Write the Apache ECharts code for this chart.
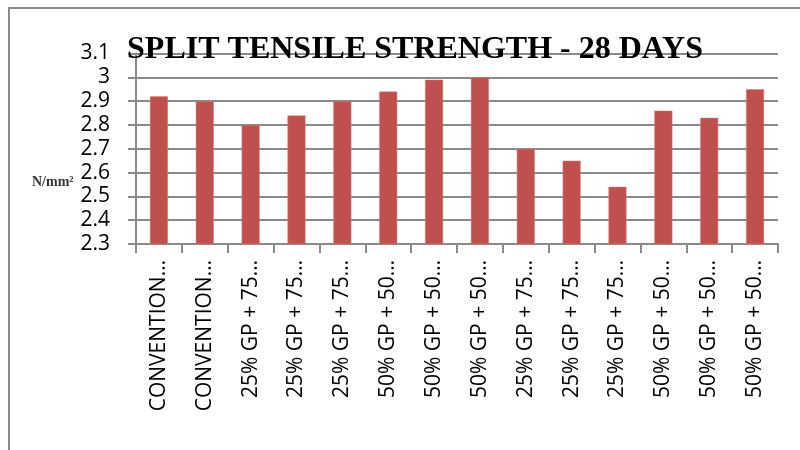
<!DOCTYPE html>
<html>
<head>
<meta charset="utf-8">
<script src="https://cdn.jsdelivr.net/npm/echarts@6/dist/echarts.min.js"></script>
<style>
  body { margin: 0; background: #fff; }
  .echarts_box { position: relative; width: 800px; height: 450px; overflow: hidden; }
  .frame {
    position: absolute; left: 8px; top: 7px; width: 900px; height: 500px;
    border-left: 2px solid #8a8a8a; border-top: 2px solid #8a8a8a;
  }
  .chart { position: absolute; left: 0; top: 0; width: 800px; height: 450px; }
</style>
</head>
<body>
<div class="echarts_box">
  <div class="frame"></div>
  <div class="chart" id="chart"></div>
</div>
<script>
// 数据
const categories = [
  'CONVENTION…', 'CONVENTION…',
  '25% GP + 75…', '25% GP + 75…', '25% GP + 75…',
  '50% GP + 50…', '50% GP + 50…', '50% GP + 50…',
  '25% GP + 75…', '25% GP + 75…', '25% GP + 75…',
  '50% GP + 50…', '50% GP + 50…', '50% GP + 50…'
]
const strength = [2.92, 2.90, 2.80, 2.84, 2.90, 2.94, 2.99, 3.00, 2.70, 2.65, 2.54, 2.86, 2.83, 2.95]
const yMin = 2.3
const yMax = 3.1
const yStep = 0.1
const unitText = 'N/mm²'

const chart = echarts.init(document.getElementById('chart'))
const option = {
  animation: false,
  title: {
    text: 'SPLIT TENSILE STRENGTH - 28 DAYS',
    left: 410,
    textAlign: 'center',
    top: 29,
    textStyle: {
      fontFamily: 'Liberation Serif',
      fontWeight: 'bold',
      fontSize: 32,
      color: '#000'
    }
  },
  // 单位文字
  graphic: [
    {
      type: 'text',
      left: 32,
      top: 175,
      style: {
        text: unitText,
        font: 'bold 14px "Liberation Serif"',
        fill: '#333'
      }
    }
  ],
  grid: {
    left: 136,
    right: 22,
    top: 53.5,
    bottom: 206
  },
  xAxis: {
    type: 'category',
    data: categories,
    axisLine: { lineStyle: { color: '#8a8a8a', width: 2 } },
    axisTick: { show: true, length: 9, lineStyle: { color: '#8a8a8a', width: 2 } },
    axisLabel: {
      rotate: 90,
      interval: 0,
      margin: 16,
      color: '#000',
      fontFamily: 'Open Sans',
      fontSize: 21
    }
  },
  yAxis: {
    type: 'value',
    min: yMin,
    max: yMax,
    interval: yStep,
    axisLine: { show: true, lineStyle: { color: '#8a8a8a', width: 2 } },
    axisTick: { show: true, length: 8, lineStyle: { color: '#8a8a8a', width: 2 } },
    splitLine: { lineStyle: { color: '#8a8a8a', width: 2 } },
    axisLabel: {
      margin: 26,
      color: '#000',
      fontFamily: 'Open Sans',
      fontSize: 21,
      formatter: v => String(+v.toFixed(1))
    }
  },
  series: [
    {
      type: 'bar',
      data: strength,
      barWidth: 18,
      itemStyle: {
        color: '#C0504D',
        borderColor: '#d97f7c',
        borderWidth: 0.5
      }
    }
  ]
}
chart.setOption(option)
</script>
</body>
</html>
